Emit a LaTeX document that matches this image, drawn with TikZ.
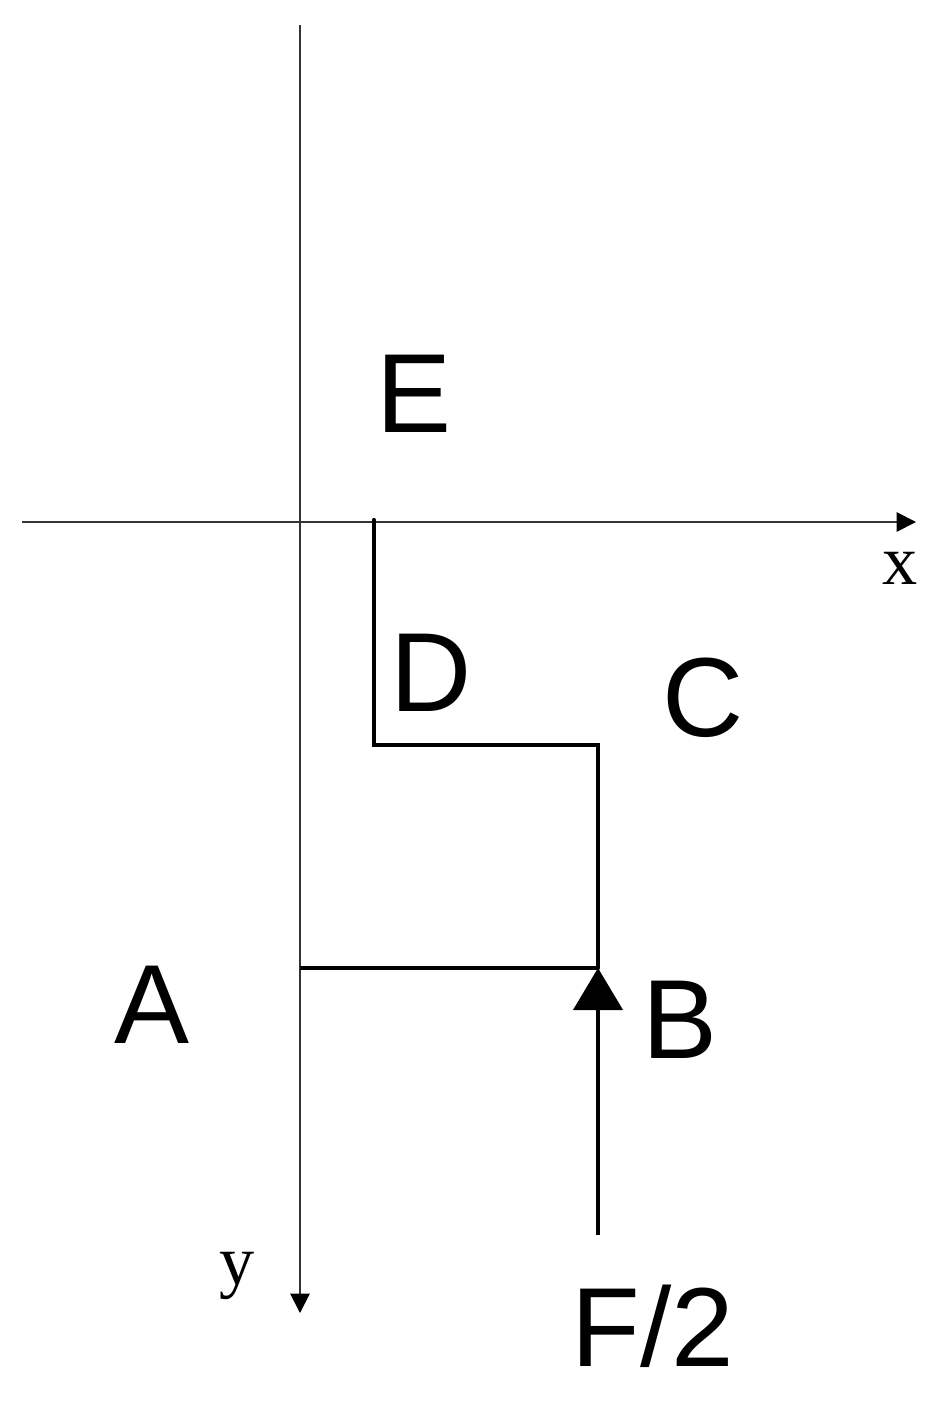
\documentclass[tikz,border=0pt]{standalone}
\usepackage{fontspec}
\setmainfont{Liberation Sans}
\newfontfamily\axisfont{Liberation Serif}
\usepackage{tikz}
\usetikzlibrary{arrows.meta}

\tikzset{
    axis/.style = {black!80, line width = 0.5pt, -{Triangle[width = 5.5pt, length = 5.5pt, black]}},
    beam/.style = {line width = 1.2pt},
    force/.style = {line width = 1.2pt, -{Triangle[width = 14pt, length = 12pt]}},
    pt/.style = {font = \fontsize{32}{38}\selectfont},
    axlbl/.style = {font = \axisfont\fontsize{20}{24}\selectfont}
}

\begin{document}
\begin{tikzpicture}
    \useasboundingbox (0, 0) rectangle (9.45, -14.01);

    %% axis
    \coordinate (xs) at (0.22, -5.22);
    \coordinate (xe) at (9.16, -5.22);
    \coordinate (ys) at (3.00, -0.25);
    \coordinate (ye) at (3.00, -13.13);
    \draw[axis] (xs) -- (xe);
    \draw[axis] (ys) -- (ye);
    \node[axlbl] (xl) at (9.00, -5.68) {x};
    \node[axlbl] (yl) at (2.37, -12.76) {y};

    %% frame
    \coordinate (d0) at (3.74, -5.20);
    \coordinate (d1) at (3.74, -7.45);
    \coordinate (c1) at (5.98, -7.45);
    \coordinate (b1) at (5.98, -9.68);
    \coordinate (a1) at (3.00, -9.68);
    \draw[beam, line cap = round] (d0) -- (d1) -- (c1) -- (b1);
    \draw[beam] (a1) -- (b1);

    %% load
    \coordinate (f0) at (5.98, -12.35);
    \draw[force] (f0) -- (b1);

    %% labels
    \node[pt] (E) at (4.14, -3.94) {E};
    \node[pt] (D) at (4.31, -6.73) {D};
    \node[pt] (C) at (7.03, -6.98) {C};
    \node[pt] (A) at (1.52, -10.05) {A};
    \node[pt] (B) at (6.80, -10.20) {B};
    \node[pt] (F) at (6.53, -13.26) {F/2};
\end{tikzpicture}
\end{document}
